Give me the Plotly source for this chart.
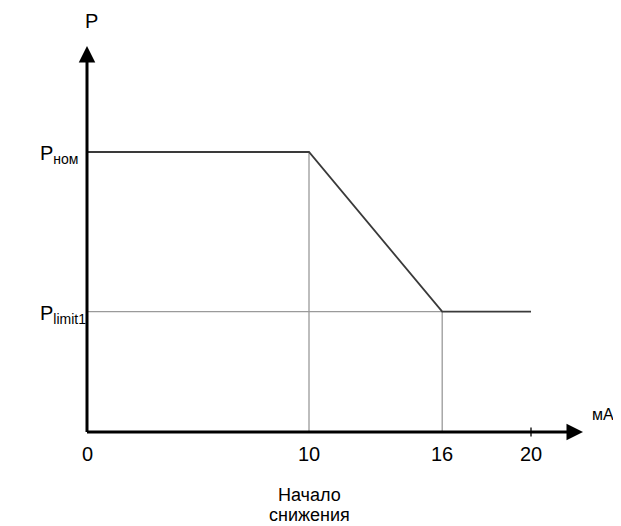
import plotly.graph_objects as go

# Data
current_ma = [0, 10, 16, 20]          # x values of the characteristic (mA)
power = [1.0, 1.0, 0.43, 0.43]        # P relative (P_nom = 1, P_limit1 = 0.43)
tick_values = [0, 10, 16, 20]
tick_labels = ["0", "10", "16", "20"]
note_lines = ["Начало", "снижения"]
p_nom = 1.0
p_limit = 0.43
x_start_reduce = 10
x_end_reduce = 16

# page has an 8px body margin: figure drawn 8px right/down of window origin
PAGE_OFF = 8
W, H = 621 - PAGE_OFF, 526 - PAGE_OFF
PX_X, PX_Y = 22.2, 280.0
OX, OY = 87.0 - PAGE_OFF, 432.0 - PAGE_OFF   # origin in figure pixels
x0 = -OX / PX_X
x1 = x0 + W / PX_X
y1 = OY / PX_Y
y0 = y1 - H / PX_Y

def dx(px):   # px given in window pixels
    return (px - PAGE_OFF - OX) / PX_X

def dy(py):
    return (OY - (py - PAGE_OFF)) / PX_Y

fig = go.Figure()

# helper guide lines (light grey)
guide_color = "#9a9a9a"
fig.add_trace(go.Scatter(x=[x_start_reduce, x_start_reduce], y=[0, p_nom], mode="lines",
                         line=dict(color=guide_color, width=1.3), hoverinfo="skip"))
fig.add_trace(go.Scatter(x=[x_end_reduce, x_end_reduce], y=[0, p_limit], mode="lines",
                         line=dict(color=guide_color, width=1.3), hoverinfo="skip"))
fig.add_trace(go.Scatter(x=[0, x_end_reduce], y=[p_limit, p_limit], mode="lines",
                         line=dict(color=guide_color, width=1.3), hoverinfo="skip"))

# main characteristic
fig.add_trace(go.Scatter(x=current_ma, y=power, mode="lines",
                         line=dict(color="#3a3a3a", width=1.8), hoverinfo="skip"))

# tick mark at 20
fig.add_trace(go.Scatter(x=[20, 20], y=[-0.016, 0.016], mode="lines",
                         line=dict(color="#000000", width=1.3), hoverinfo="skip"))

annotations = []
# axes with arrows
annotations.append(dict(x=dx(583), y=0, ax=dx(85.5), ay=0, xref="x", yref="y", axref="x", ayref="y",
                        text="", showarrow=True, arrowhead=2, arrowsize=1.1, arrowwidth=3,
                        arrowcolor="#000000", standoff=0))
annotations.append(dict(x=0, y=dy(46), ax=0, ay=dy(433.5), xref="x", yref="y", axref="x", ayref="y",
                        text="", showarrow=True, arrowhead=2, arrowsize=1.1, arrowwidth=3,
                        arrowcolor="#000000", standoff=0))

font = dict(family="Liberation Sans, Arial, sans-serif", size=20, color="#000000")

# tick labels
for v, t in zip(tick_values, tick_labels):
    annotations.append(dict(x=v, y=dy(454), xref="x", yref="y", text=t, showarrow=False,
                            font=font, xanchor="center", yanchor="middle"))

# axis titles
annotations.append(dict(x=dx(91), y=dy(21), xref="x", yref="y", text="P", showarrow=False,
                        font=font, xanchor="center", yanchor="middle"))
annotations.append(dict(x=dx(590), y=dy(414), xref="x", yref="y", text="мА", showarrow=False,
                        font=dict(family=font["family"], size=16, color="#000000"),
                        xanchor="left", yanchor="middle"))

# level labels
annotations.append(dict(x=dx(38), y=dy(154), xref="x", yref="y", text="P<sub>ном</sub>", showarrow=False,
                        font=font, xanchor="left", yanchor="middle"))
annotations.append(dict(x=dx(38), y=dy(314), xref="x", yref="y", text="P<sub>limit1</sub>", showarrow=False,
                        font=font, xanchor="left", yanchor="middle"))

# note under the 10 mA mark
note_font = dict(family=font["family"], size=18, color="#000000")
for line_text, py in zip(note_lines, [495, 515]):
    annotations.append(dict(x=x_start_reduce, y=dy(py), xref="x", yref="y", text=line_text,
                            showarrow=False, font=note_font, xanchor="center", yanchor="middle"))

fig.update_layout(
    width=W, height=H, autosize=False,
    margin=dict(l=0, r=0, t=0, b=0),
    paper_bgcolor="#ffffff", plot_bgcolor="#ffffff",
    showlegend=False,
    xaxis=dict(range=[x0, x1], visible=False, fixedrange=True),
    yaxis=dict(range=[y0, y1], visible=False, fixedrange=True),
    annotations=annotations,
)

fig.write_html("out.html", config={"displayModeBar": False})
